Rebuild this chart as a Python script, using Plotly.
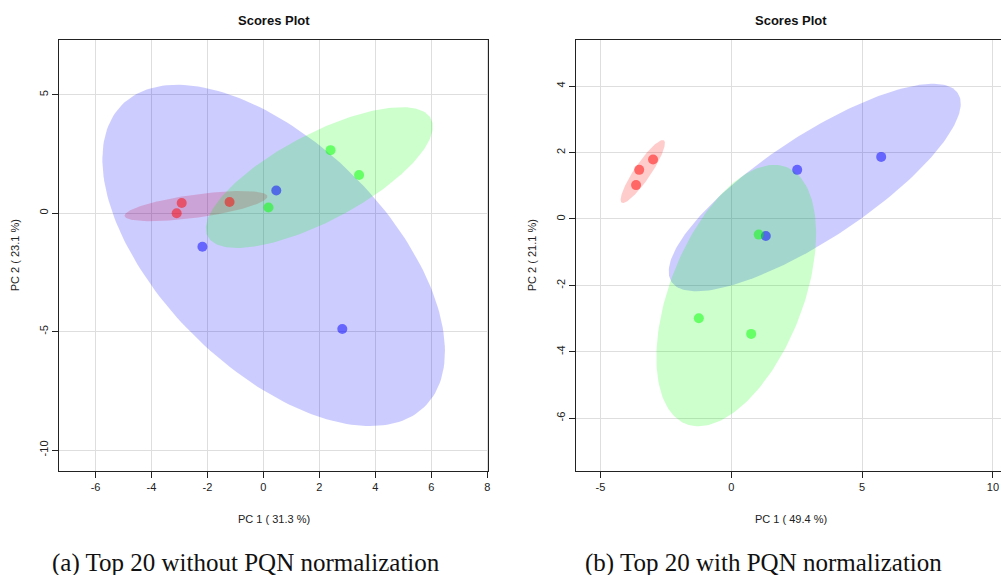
import numpy as np
import plotly.graph_objects as go

# ---- data (PCA scores) ----
groups = ["red", "blue", "green"]
group_colors = {"red": (255, 0, 0), "blue": (0, 0, 255), "green": (0, 255, 0)}

# Panel (a): without PQN normalization
a_pc1 = {"red": [-2.92, -3.10, -1.21], "blue": [0.46, -2.18, 2.82], "green": [2.40, 0.18, 3.42]}
a_pc2 = {"red": [0.43, 0.00, 0.47], "blue": [0.96, -1.42, -4.89], "green": [2.66, 0.24, 1.61]}

# Panel (b): with PQN normalization
b_pc1 = {"red": [-2.99, -3.52, -3.64], "blue": [2.52, 1.32, 5.73], "green": [1.05, -1.24, 0.76]}
b_pc2 = {"red": [1.79, 1.48, 1.02], "blue": [1.48, -0.51, 1.87], "green": [-0.47, -2.99, -3.46]}

a_xticks = [-6, -4, -2, 0, 2, 4, 6, 8]
a_yticks = [-10, -5, 0, 5]
b_xticks = [-5, 0, 5, 10]
b_yticks = [-6, -4, -2, 0, 2, 4]

a_xtitle = "PC 1 ( 31.3 %)"
a_ytitle = "PC 2 ( 23.1 %)"
b_xtitle = "PC 1 ( 49.4 %)"
b_ytitle = "PC 2 ( 21.1 %)"
panel_title = "Scores Plot"
caption_a = "(a) Top 20 without PQN normalization"
caption_b = "(b) Top 20 with PQN normalization"

# ---- layout geometry (pixels) ----
W, H = 1003, 575
A_L, A_R = 59.3, 489.3
B_L, B_R = 577.3, 1003.0
P_T, P_B = 40.0, 470.7


def px_x(p):
    return p / W


def px_y(p):
    return 1 - p / H


def conf_ellipse(x, y, level=0.95, n=200):
    pts = np.column_stack([x, y])
    c = pts.mean(axis=0)
    cov = np.cov(pts, rowvar=False)
    t = np.sqrt(-2 * np.log(1 - level))  # sqrt(qchisq(level, 2))
    vals, vecs = np.linalg.eigh(cov)
    th = np.linspace(0, 2 * np.pi, n)
    circ = np.vstack([np.cos(th), np.sin(th)])
    e = (vecs @ np.diag(np.sqrt(np.maximum(vals, 0))) @ circ) * t
    return c[0] + e[0], c[1] + e[1]


fig = go.Figure()


def add_panel(pc1, pc2, xa, ya):
    for g in groups:
        ex, ey = conf_ellipse(pc1[g], pc2[g])
        r, gg, b = group_colors[g]
        fig.add_trace(go.Scatter(x=ex, y=ey, mode="lines", fill="toself",
                                 fillcolor=f"rgba({r},{gg},{b},0.2)",
                                 line=dict(width=0), hoverinfo="skip",
                                 showlegend=False, xaxis=xa, yaxis=ya))
    for g in groups:
        r, gg, b = group_colors[g]
        fig.add_trace(go.Scatter(x=pc1[g], y=pc2[g], mode="markers",
                                 marker=dict(size=10, color=f"rgba({r},{gg},{b},0.5)",
                                             line=dict(width=0)),
                                 showlegend=False, xaxis=xa, yaxis=ya))


add_panel(a_pc1, a_pc2, "x", "y")
add_panel(b_pc1, b_pc2, "x2", "y2")

tickfont = dict(family="Liberation Sans, Arial, sans-serif", size=11, color="#222")
axis_common = dict(showline=True, linecolor="#222", linewidth=1, ticks="outside",
                   ticklen=6, tickcolor="#222", tickwidth=1, showgrid=True,
                   gridcolor="#dedede", gridwidth=1, zeroline=False,
                   tickfont=tickfont, tickmode="array")


def labels(vals):
    return [str(v) for v in vals]


fig.update_layout(
    width=W, height=H,
    margin=dict(l=0, r=0, t=0, b=0),
    paper_bgcolor="white", plot_bgcolor="white",
    showlegend=False,
    xaxis=dict(domain=[px_x(A_L), px_x(A_R)], range=[-7.30, 8.04], tickvals=a_xticks,
               ticktext=labels(a_xticks), mirror=True, anchor="y", **axis_common),
    yaxis=dict(domain=[px_y(P_B), px_y(P_T)], range=[-10.87, 7.31], tickvals=a_yticks,
               ticktext=labels(a_yticks), mirror=True, anchor="x", tickangle=-90, **axis_common),
    xaxis2=dict(domain=[px_x(B_L), px_x(B_R)], range=[-5.93, 10.31], tickvals=b_xticks,
                ticktext=labels(b_xticks), mirror=True, anchor="y2", **axis_common),
    yaxis2=dict(domain=[px_y(P_B), px_y(P_T)], range=[-7.58, 5.39], tickvals=b_yticks,
                ticktext=labels(b_yticks), mirror=False, anchor="x2", tickangle=-90, **axis_common),
)

lab = dict(family="Liberation Sans, Arial, sans-serif", size=11, color="#222")
ann = []
for L, R, xt, yt, ylab_x in [(A_L, A_R, a_xtitle, a_ytitle, 15), (B_L, 1008.0, b_xtitle, b_ytitle, 533)]:
    cx = (L + R) / 2
    ann.append(dict(text=f"<b>{panel_title}</b>", x=px_x(cx), y=px_y(20), xref="paper", yref="paper",
                    showarrow=False, xanchor="center", yanchor="middle",
                    font=dict(family="Liberation Sans, Arial, sans-serif", size=13, color="#111")))
    ann.append(dict(text=xt, x=px_x(cx), y=px_y(519), xref="paper", yref="paper",
                    showarrow=False, xanchor="center", yanchor="middle", font=lab))
    ann.append(dict(text=yt, x=px_x(ylab_x), y=px_y((P_T + P_B) / 2), xref="paper", yref="paper",
                    showarrow=False, xanchor="center", yanchor="middle", textangle=-90, font=lab))

capfont = dict(family="Liberation Serif, Times New Roman, serif", size=25, color="#111")
ann.append(dict(text=caption_a, x=px_x(246), y=px_y(563), xref="paper", yref="paper",
                showarrow=False, xanchor="center", yanchor="middle", font=capfont))
ann.append(dict(text=caption_b, x=px_x(765), y=px_y(563), xref="paper", yref="paper",
                showarrow=False, xanchor="center", yanchor="middle", font=capfont))
fig.update_layout(annotations=ann)

fig.write_html("out.html")
